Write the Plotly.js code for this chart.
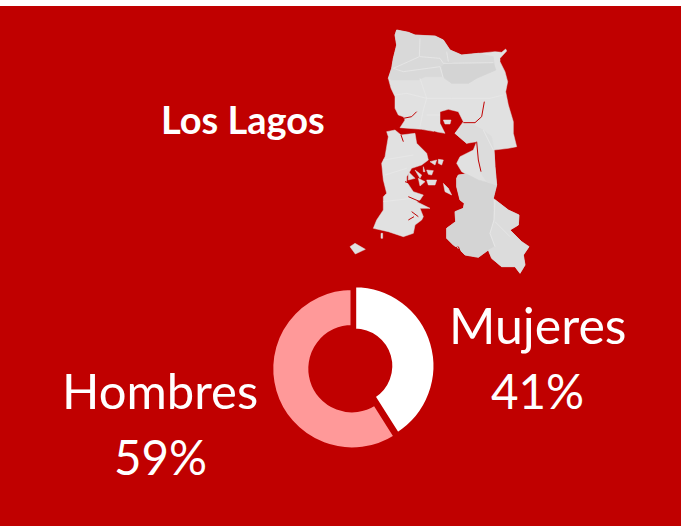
<!DOCTYPE html>
<html><head><meta charset="utf-8">
<script src="https://cdn.plot.ly/plotly-3.0.1.min.js"></script>
<style>html,body{margin:0;padding:0;background:#fff}#c{width:687px;height:526px}</style></head>
<body><div id="c"></div>
<script>
const categories = ['Mujeres', 'Hombres'];
const shares = [41, 59];
const regionName = 'Los Lagos';

const RED = '#C00000', LIGHT = '#E1E1E1', DARK = '#D9D9D9', DARKER = '#D4D4D4', MID = '#DCDCDC', EDGE = '#E9E9E9';

// Map outlines
const mainland = [[170,30],[205,37],[225,45],[255,47],[285,48],[310,60],[330,90],[365,105],[415,100],[465,95],[485,97],[497,87],[500,93],[480,115],[480,125],[495,155],[503,185],[497,215],[505,255],[510,270],[520,305],[520,340],[530,380],[505,385],[462,390],[465,440],[470,495],[460,535],[505,570],[537,585],[535,615],[510,630],[545,665],[567,680],[550,705],[555,735],[540,760],[525,740],[485,740],[455,715],[445,690],[415,712],[375,705],[355,685],[340,675],[320,655],[320,625],[347,605],[345,575],[370,565],[373,550],[360,540],[350,500],[350,475],[355,465],[380,462],[405,478],[365,455],[350,430],[360,410],[400,390],[410,365],[405,360],[380,370],[345,340],[370,305],[355,275],[325,268],[300,275],[300,310],[315,340],[285,335],[245,328],[180,323],[195,300],[190,290],[175,285],[165,265],[165,230],[153,205],[145,175],[155,145],[160,115],[170,75],[165,45]];
const north = [[145,175],[155,145],[160,115],[170,75],[165,45],[170,30],[205,37],[225,45],[255,47],[285,48],[310,60],[330,90],[365,105],[415,100],[460,110],[465,150],[410,175],[385,190],[335,190],[305,170],[255,170],[235,180],[155,180]];
const band = [[320,125],[345,130],[405,130],[460,128],[468,150],[410,175],[385,190],[335,190],[310,170],[305,140]];
const south = [[355,465],[380,462],[415,480],[455,490],[470,495],[460,535],[462,600],[450,640],[465,680],[445,690],[415,712],[375,705],[355,685],[340,675],[320,655],[320,625],[347,605],[345,575],[370,565],[373,550],[360,540],[350,500],[350,475]];
const southEast = [[465,540],[505,570],[537,585],[535,615],[510,630],[545,665],[567,680],[550,705],[555,735],[540,760],[525,740],[485,740],[455,715],[445,690],[465,680],[450,640],[462,600]];
const middle = [[345,340],[375,310],[400,315],[430,330],[455,350],[462,390],[465,440],[470,495],[440,485],[420,455],[412,400],[410,365],[380,370]];
const chiloe = [[140,335],[165,330],[183,345],[225,340],[230,370],[260,400],[265,420],[245,435],[215,445],[200,470],[200,485],[220,515],[250,525],[240,540],[230,545],[270,565],[240,565],[250,590],[245,600],[225,615],[220,640],[190,650],[145,635],[100,625],[110,600],[130,570],[130,530],[140,520],[130,480],[125,430],[135,410],[145,350]];
const islands = [
  [[30,680],[45,670],[76,688],[46,702]],
  [[123,640],[128,640],[128,655],[123,655]],
  [[270,425],[290,420],[285,435]],
  [[295,418],[310,420],[305,435],[295,430]],
  [[250,440],[255,455],[250,455]],
  [[260,450],[280,452],[275,465],[265,463]],
  [[225,450],[245,465],[240,475]],
  [[205,455],[225,475],[205,480]],
  [[235,475],[255,485],[240,498]],
  [[260,480],[290,480],[285,495],[265,495]],
  [[310,490],[325,505],[335,525],[315,515]],
  [[310,300],[333,300],[330,312],[315,312]]
];
const inlets = [
  [[370,308],[405,308],[425,290],[433,245]],
  [[410,365],[415,420],[423,455]],
  [[190,295],[215,290],[230,275]],
  [[195,485],[225,495]],
  [[205,530],[240,545]],
  [[205,600],[222,590]],
  [[215,575],[235,590]],
  [[330,700],[352,680]],
  [[355,680],[365,705]],
  [[283,335],[300,345]],
  [[183,345],[190,365]]
];
const borders = [
  [[240,55],[238,110],[205,125],[160,145],[190,155],[300,140],[310,175]],
  [[240,110],[300,115],[310,130],[360,130],[460,128]],
  [[320,95],[325,125]],
  [[240,175],[260,235],[335,235],[400,235],[450,235],[490,225]],
  [[165,225],[200,220],[260,235],[250,270],[240,320]],
  [[260,285],[300,285]],
  [[465,540],[462,600],[450,640],[465,680]],
  [[465,605],[510,650]],
  [[430,330],[460,390]],
  [[135,465],[200,445]],
  [[130,545],[215,535]],
  [[130,420],[220,405]]
];

const poly = (p, color) => ({type:'scatter', mode:'lines', x:[...p.map(q=>q[0]), p[0][0]], y:[...p.map(q=>q[1]), p[0][1]],
  fill:'toself', fillcolor:color, line:{color:color, width:0.5}, hoverinfo:'skip', showlegend:false});
const line = (p, color, w) => ({type:'scatter', mode:'lines', x:p.map(q=>q[0]), y:p.map(q=>q[1]),
  line:{color:color, width:w}, hoverinfo:'skip', showlegend:false});

const clear = 'rgba(0,0,0,0)';
const ring = (colors, edges, hole, domain) => ({type:'pie', values:shares, labels:categories, sort:false, direction:'clockwise', rotation:0,
  hole:hole, domain:domain, textinfo:'none', hoverinfo:'label+percent', showlegend:false,
  marker:{colors:colors, line:{color:edges, width:3}}});
const box = (cx, cy, r) => ({x:[(cx-r)/687,(cx+r)/687], y:[1-(cy+r)/526, 1-(cy-r)/526]});

const traces = [
  poly(mainland, LIGHT), poly(north, DARK), poly(band, DARKER), poly(south, DARKER), poly(southEast, MID), poly(middle, MID), poly(chiloe, LIGHT),
  ...borders.map(b => line(b, EDGE, 0.8)),
  ...inlets.map(b => line(b, RED, 1)),
  ...islands.map(p => poly(p, LIGHT)),
  ring(['#FFFFFF', clear], [RED, clear], 0.45, box(354.7, 366, 80.2)),
  ring([clear, '#FF9999'], [clear, RED], 0.526, box(352, 368.7, 80.2))
];

const note = (text, x, y, size, bold) => ({text: bold ? '<b>'+text+'</b>' : text, x:x/687, y:1-y/526, xref:'paper', yref:'paper',
  showarrow:false, xanchor:'center', yanchor:'middle', font:{family:'Lato, Carlito, sans-serif', size:size, color:'#FFFFFF'}});

Plotly.newPlot('c', traces, {
  width:687, height:526, margin:{l:0,r:0,t:0,b:0}, paper_bgcolor:'#FFFFFF', plot_bgcolor:clear,
  xaxis:{range:[-1020,1041], visible:false, fixedrange:true},
  yaxis:{range:[1518,-60], visible:false, fixedrange:true},
  shapes:[{type:'rect', xref:'paper', yref:'paper', x0:0, x1:681/687, y0:0, y1:520/526, fillcolor:RED, line:{width:0}, layer:'below'}],
  annotations:[
    note(regionName, 243, 119, 38, true),
    note(categories[0], 537, 325, 50),
    note(shares[0]+'%', 537, 390, 47.5),
    note(categories[1], 160, 390, 49),
    note(shares[1]+'%', 160, 456, 47.5)
  ]
}, {displayModeBar:false, staticPlot:true});
</script></body></html>
